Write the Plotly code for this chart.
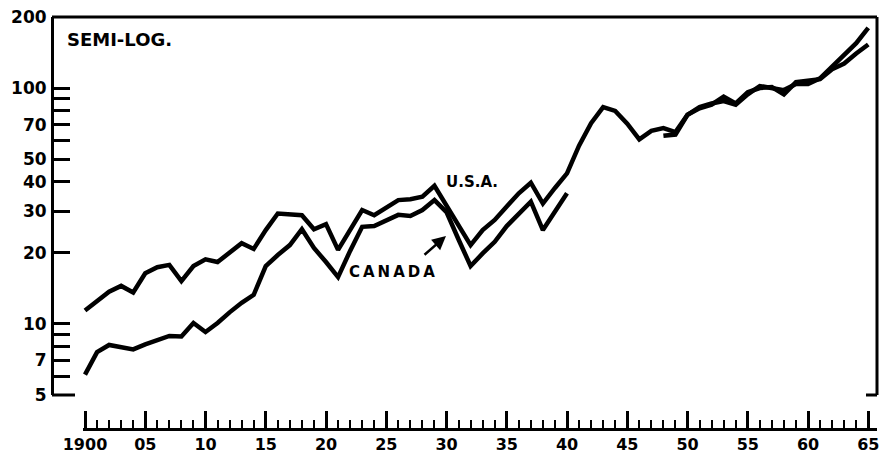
import math
import plotly.graph_objects as go

# ---------------- data ----------------
years = list(range(1900, 1966))

usa = [11.4, 12.5, 13.7, 14.5, 13.6, 16.4, 17.4, 17.8, 15.2, 17.6,
       18.8, 18.3, 20.2, 22.0, 20.8, 25.0, 29.4, 29.2, 28.9, 25.2,
       26.5, 20.6, 25.0, 30.4, 28.9, 31.3, 33.5, 33.8, 34.6, 38.5,
       31.7, 26.2, 21.6, 25.0, 27.6, 31.5, 35.8, 39.7, 32.4, 37.7,
       43.5, 57.0, 71.0, 83.0, 80.0, 70.6, 60.6, 65.8, 67.7, 65.1,
       77.0, 82.0, 85.0, 92.0, 86.0, 96.0, 100.0, 101.0, 94.0, 106.0,
       108.0, 109.0, 120.0, 127.0, 140.0, 153.0]

canada = [6.1, 7.6, 8.15, 7.95, 7.8, 8.2, 8.55, 8.9, 8.85, 10.1,
          9.25, 10.1, 11.2, 12.3, 13.3, 17.6, 19.6, 21.6, 25.2, 21.0,
          18.3, 15.8, 20.4, 25.8, 26.0, 27.6, 29.0, 28.7, 30.4, 33.5,
          29.8, 22.8, 17.6, 19.9, 22.3, 26.0, 29.2, 33.0, 25.0, 30.0,
          35.8, None, None, None, None, None, None, None, 62.7, 63.5,
          77.0, 83.0, 86.0, 88.0, 85.0, 94.0, 102.0, 100.0, 98.0, 104.0,
          104.0, 110.0, 123.0, 138.0, 155.0, 180.0]

y_tickvals = [5, 6, 7, 8, 9, 10, 20, 30, 40, 50, 60, 70, 80, 90, 100, 200]
y_ticktext = ["5", "", "7", "", "", "10", "20", "30", "40", "50", "", "70", "", "", "100", "200"]

x_tickvals = list(range(1900, 1966, 5))
x_ticktext = ["1900", "05", "10", "15", "20", "25", "30", "35", "40", "45", "50", "55", "60", "65"]

# ---------------- layout geometry ----------------
W, H = 879, 455
ml, mr, mt, mb = 52, 2, 17, 26
plot_w = W - ml - mr
plot_h = H - mt - mb
y_bottom_px = 395          # pixel row of the value 5
x_axis_start_px = 83       # where the year axis line begins
px_per_year = 12.05
x1900_px = 85

x_lo = 1900 - (x1900_px - x_axis_start_px) / px_per_year
x_hi = 1900 + (W - mr - x1900_px) / px_per_year

ydom0 = (H - mb - y_bottom_px) / plot_h
xdom0 = (x_axis_start_px - ml) / plot_w

FONT = "DejaVu Sans"

fig = go.Figure()
line_style = dict(color="black", width=4.5)
fig.add_trace(go.Scatter(x=years, y=usa, mode="lines", line=line_style,
                         name="U.S.A.", showlegend=False, hoverinfo="skip"))
fig.add_trace(go.Scatter(x=years, y=canada, mode="lines", line=line_style,
                         name="CANADA", showlegend=False, connectgaps=False,
                         hoverinfo="skip"))

fig.update_layout(
    width=W, height=H,
    margin=dict(l=ml, r=mr, t=mt, b=mb, pad=0, autoexpand=False),
    paper_bgcolor="white", plot_bgcolor="white",
    font=dict(family=FONT, color="black"),
    xaxis=dict(
        domain=[xdom0, 1], anchor="free", position=0, automargin=False,
        range=[x_lo, x_hi], showgrid=False, zeroline=False,
        showline=True, linecolor="black", linewidth=3,
        ticks="inside", ticklen=17, tickwidth=2.5, tickcolor="black",
        tickvals=x_tickvals, ticktext=x_ticktext,
        tickfont=dict(family=FONT, size=16, weight="bold"),
        ticklabeloverflow="allow",
        minor=dict(tickvals=years, ticks="inside", ticklen=8,
                   tickwidth=2, tickcolor="black", showgrid=False),
    ),
    yaxis=dict(
        type="log", domain=[ydom0, 1], anchor="free", position=0, automargin=False,
        range=[math.log10(5), math.log10(200)],
        showgrid=False, zeroline=False,
        showline=True, linecolor="black", linewidth=3,
        ticks="inside", ticklen=16, tickwidth=3, tickcolor="black",
        tickvals=y_tickvals, ticktext=y_ticktext,
        tickfont=dict(family=FONT, size=17, weight="bold"),
        ticklabelstandoff=1,
    ),
)

# frame: top and right border, short ticks at the bottom value
frame = dict(color="black", width=3)
fig.add_shape(type="line", xref="paper", yref="y domain", x0=0, x1=1, y0=1, y1=1, line=frame)
fig.add_shape(type="line", xref="paper", yref="y domain", x0=1, x1=1, y0=0, y1=1, line=frame)
fig.add_shape(type="line", xref="paper", yref="y domain", x0=0, x1=(75 - ml) / plot_w,
              y0=0, y1=0, line=frame)
fig.add_shape(type="line", xref="paper", yref="y domain", x0=(866 - ml) / plot_w, x1=1,
              y0=0, y1=0, line=frame)

def to_year(px):
    return 1900 + (px - x1900_px) / px_per_year

def to_logv(py):
    return 1 + (324 - py) / 236.0

fig.add_annotation(text="SEMI-LOG.", xref="paper", yref="paper",
                   x=(65 - ml) / plot_w, y=(H - mb - 40) / plot_h,
                   xanchor="left", yanchor="middle", showarrow=False,
                   font=dict(family=FONT, size=18, weight="bold"))
fig.add_annotation(text="U.S.A.", xref="x", yref="y",
                   x=to_year(472), y=to_logv(182), showarrow=False,
                   font=dict(family=FONT, size=15, weight="bold"))
fig.add_annotation(text="C\u2009A\u2009N\u2009A\u2009D\u2009A", xref="x", yref="y",
                   x=to_year(392), y=to_logv(272), showarrow=False,
                   font=dict(family=FONT, size=15, weight="bold"))
fig.add_annotation(text="", xref="x", yref="y",
                   x=to_year(446), y=to_logv(236), ax=-23, ay=20,
                   showarrow=True, arrowhead=2, arrowsize=1.1, arrowwidth=2.5,
                   arrowcolor="black")

fig.write_html(
    "out.html",
    config={"displayModeBar": False},
    post_script="document.body.style.margin='0';document.body.style.overflow='hidden';",
)
